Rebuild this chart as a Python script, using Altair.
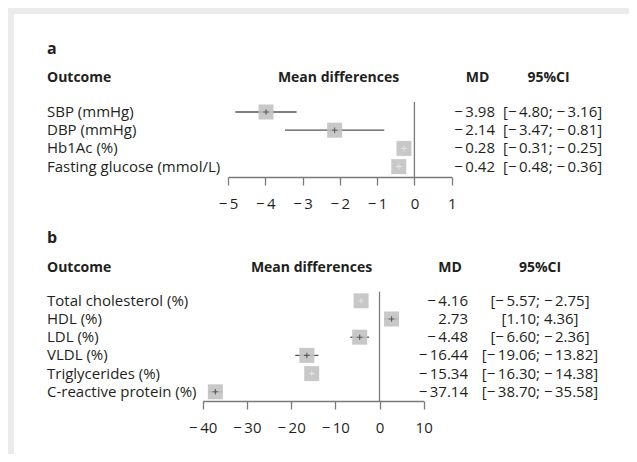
import altair as alt
import pandas as pd

# ---------------- data ----------------
a_outcomes = ["SBP (mmHg)", "DBP (mmHg)", "Hb1Ac (%)", "Fasting glucose (mmol/L)"]
a_md = [-3.98, -2.14, -0.28, -0.42]
a_lo = [-4.80, -3.47, -0.31, -0.48]
a_hi = [-3.16, -0.81, -0.25, -0.36]
a_ticks = [-5, -4, -3, -2, -1, 0, 1]

b_outcomes = ["Total cholesterol (%)", "HDL (%)", "LDL (%)", "VLDL (%)",
              "Triglycerides (%)", "C-reactive protein (%)"]
b_md = [-4.16, 2.73, -4.48, -16.44, -15.34, -37.14]
b_lo = [-5.57, 1.10, -6.60, -19.06, -16.30, -38.70]
b_hi = [-2.75, 4.36, -2.36, -13.82, -14.38, -35.58]
b_ticks = [-40, -30, -20, -10, 0, 10]

headers = ["Outcome", "Mean differences", "MD", "95%CI"]

FONT = "Open Sans"
TXT = "#231f20"
LINE = "#555555"
AXIS = "#7a7a7a"
SQ = "#c2c2c2"
W = 615


def fmt(v):
    return ("\u2212\u2009" if v < 0 else "") + f"{abs(v):.2f}"


def build(outcomes, md, lo, hi, ticks, letter, L):
    pxu = (L["xr"][1] - L["xr"][0]) / (ticks[-1] - ticks[0])
    df = pd.DataFrame({"outcome": outcomes, "md": md, "lo": lo, "hi": hi})
    df["mdt"] = [fmt(v) for v in md]
    df["cit"] = [f"[{fmt(l)}; {fmt(h)}]" for l, h in zip(lo, hi)]
    df["wide"] = [(h - l) * pxu > 13 for l, h in zip(lo, hi)]

    xs = alt.Scale(domain=[ticks[0], ticks[-1]], range=L["xr"], nice=False, zero=False)
    ys = alt.Scale(type="point", domain=outcomes, range=L["yr"], padding=0)
    xaxis = alt.Axis(values=ticks, title=None, grid=False,
                     offset=L["off"], tickSize=8, tickWidth=1.3,
                     tickColor=AXIS, domainColor=AXIS, domainWidth=1.3,
                     labelFont=FONT, labelFontSize=15, labelColor=TXT,
                     labelPadding=L["lp"], labelFlush=False,
                     labelExpr="datum.value < 0 ? '\u2212\u2009' + abs(datum.value) : datum.label")
    X = lambda f: alt.X(f, scale=xs, axis=xaxis)
    Y = alt.Y("outcome:N", scale=ys, axis=None)

    base = alt.Chart(df)

    zero = alt.Chart(pd.DataFrame({"z": [0]})).mark_rule(color=AXIS, strokeWidth=1.3).encode(
        x=X("z:Q"),
        y=alt.value(L["z0"]), y2=alt.value(L["z1"]),
    )

    ci = base.mark_rule(strokeWidth=1.3).encode(
        x=X("lo:Q"), x2="hi:Q", y=Y,
        color=alt.condition("datum.wide", alt.value(LINE), alt.value("#e6e6e6")),
    )
    sq = base.mark_square(size=225, color=SQ, opacity=0.9).encode(x=X("md:Q"), y=Y)
    plus = base.mark_point(shape="M-1,0L1,0M0,-1L0,1", size=30, filled=False,
                           strokeWidth=1.1).encode(
        x=X("md:Q"), y=Y,
        color=alt.condition("datum.wide", alt.value("#333333"), alt.value("#eeeeee")),
    )

    labels = base.mark_text(align="left", baseline="middle", font=FONT,
                            fontSize=15, color=TXT).encode(
        x=alt.value(33), y=Y, text="outcome:N")
    mdtxt = base.mark_text(align="right", baseline="middle", font=FONT,
                           fontSize=15, color=TXT).encode(
        x=alt.value(L["mdx"]), y=Y, text="mdt:N")
    citxt = base.mark_text(align=L["cia"], baseline="middle", font=FONT,
                           fontSize=15, color=TXT).encode(
        x=alt.value(L["cix"]), y=Y, text="cit:N")

    hl = []
    for t, hx, al in zip(headers, L["hx"], ["left", "center", "center", "center"]):
        hl.append(alt.Chart(pd.DataFrame({"t": [t]})).mark_text(
            align=al, baseline="middle", font=FONT, fontSize=14,
            fontWeight="bold", color=TXT).encode(
            x=alt.value(hx), y=alt.value(L["hy"]), text="t:N"))
    let = alt.Chart(pd.DataFrame({"t": [letter]})).mark_text(
        align="left", baseline="alphabetic", font=FONT, fontSize=16,
        fontWeight="bold", color=TXT).encode(
        x=alt.value(33), y=alt.value(L["ly"]), text="t:N")

    return alt.layer(zero, ci, sq, plus, labels, mdtxt, citxt, let, *hl).properties(
        width=W, height=L["h"])


LA = dict(xr=[214, 437.7], yr=[98, 152.6], off=-39, lp=11, z0=88, z1=163,
          mdx=481, cix=489, cia="left", hx=[33, 324.5, 463.5, 534.5], hy=63.5,
          ly=39.5, h=202)
LB = dict(xr=[188.7, 409.7], yr=[84.8, 175.8], off=-53, lp=11, z0=75.7, z1=185,
          mdx=454, cix=526, cia="center", hx=[33, 297.5, 436, 526], hy=52,
          ly=27, h=238)

pa = build(a_outcomes, a_md, a_lo, a_hi, a_ticks, "a", LA)
pb = build(b_outcomes, b_md, b_lo, b_hi, b_ticks, "b", LB)

chart = alt.vconcat(pa, pb, spacing=0, bounds="flush").properties(
    padding={"left": 6, "top": 6, "right": 0, "bottom": 0},
    background="#ebebeb",
).configure_view(fill="white", strokeWidth=0)

chart.save("out.html", embed_options={"renderer": "svg", "actions": False})
